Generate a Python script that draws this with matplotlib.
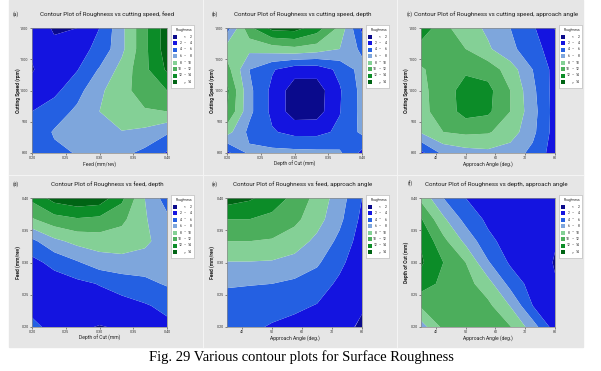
import numpy as np
import matplotlib
matplotlib.use("Agg")
import matplotlib.pyplot as plt
from matplotlib.patches import Rectangle

plt.rcParams['font.family'] = ['Roboto', 'DejaVu Sans']

# level bands and colours (Minitab style)
levels = [-100, 2, 4, 6, 8, 10, 12, 14, 100]
band_colors = ['#0a0a8c', '#1414e0', '#2460e2', '#7ea6dc',
               '#84d096', '#4cae5c', '#0c8c28', '#006414']
legend_left = ['', '2', '4', '6', '8', '10', '12', '']
legend_mid = ['<', '–', '–', '–', '–', '–', '–', '>']
legend_right = ['2', '4', '6', '8', '10', '12', '14', '14']

# axes values
feed = [0.20, 0.233, 0.267, 0.30, 0.333, 0.367, 0.40]
depth = [0.20, 0.233, 0.267, 0.30, 0.333, 0.367, 0.40]
speed = [1200, 1133, 1067, 1000, 933, 867, 800]
angle = [35, 42.5, 50, 57.5, 65, 72.5, 80]
feed_y = [0.40, 0.367, 0.333, 0.30, 0.267, 0.233, 0.20]
depth_y = [0.40, 0.367, 0.333, 0.30, 0.267, 0.233, 0.20]

# roughness grids, rows from top of plot to bottom
z_speed_feed = [
    [3.5, 1.7, 2.0, 4.0, 7.5, 11.5, 15.0],
    [2.2, 2.6, 3.3, 4.5, 7.5, 11.5, 15.0],
    [1.9, 2.8, 3.9, 6.2, 8.7, 11.5, 14.3],
    [2.5, 3.5, 5.3, 7.6, 9.3, 11.0, 12.0],
    [4.0, 5.0, 6.4, 8.0, 9.3, 9.8, 10.0],
    [4.6, 6.2, 7.0, 7.8, 7.9, 7.5, 6.3],
    [4.8, 5.6, 6.1, 6.6, 6.5, 5.5, 3.8],
]
z_speed_depth = [
    [5.0, 11.5, 14.6, 14.8, 13.0, 9.5, 3.5],
    [9.0, 8.5, 9.0, 9.5, 9.0, 8.0, 5.5],
    [10.8, 6.0, 4.2, 2.8, 2.8, 4.5, 6.8],
    [12.5, 6.5, 3.5, 1.0, 1.0, 3.8, 6.6],
    [12.0, 6.5, 3.5, 1.0, 1.1, 3.9, 6.6],
    [8.8, 5.5, 4.2, 3.4, 3.4, 4.4, 6.4],
    [3.5, 6.4, 6.6, 6.6, 6.5, 6.3, 3.5],
]
z_speed_angle = [
    [13.5, 10.5, 9.0, 7.6, 6.0, 4.3, 1.9],
    [11.0, 10.8, 10.0, 8.3, 6.5, 4.8, 3.0],
    [9.8, 10.8, 11.6, 11.2, 9.0, 6.0, 3.3],
    [9.6, 10.8, 13.0, 12.6, 10.0, 6.5, 3.2],
    [9.5, 10.8, 12.8, 12.4, 10.0, 6.8, 3.2],
    [8.2, 10.0, 10.4, 10.2, 9.0, 6.5, 3.2],
    [3.5, 6.5, 7.2, 7.5, 7.0, 5.5, 3.0],
]
z_feed_depth = [
    [12.5, 14.8, 15.5, 15.2, 12.5, 8.0, 5.0],
    [9.8, 11.2, 11.8, 11.5, 10.5, 8.2, 6.5],
    [5.5, 7.5, 8.6, 9.0, 8.9, 8.5, 6.8],
    [3.4, 4.6, 5.8, 7.0, 7.4, 7.0, 6.8],
    [2.6, 3.0, 3.5, 4.1, 4.8, 5.5, 6.2],
    [3.0, 2.8, 2.8, 3.0, 3.3, 3.8, 4.5],
    [4.8, 3.0, 2.3, 1.9, 2.2, 2.6, 3.5],
]
z_feed_angle = [
    [15.0, 14.3, 13.0, 11.5, 9.3, 7.0, 4.0],
    [12.0, 12.0, 11.5, 10.5, 8.8, 6.5, 3.5],
    [10.0, 10.0, 9.8, 9.0, 7.5, 5.5, 3.0],
    [7.9, 7.9, 7.8, 7.3, 6.3, 4.5, 2.6],
    [6.2, 6.1, 6.0, 5.6, 5.0, 3.6, 2.4],
    [5.2, 5.0, 4.8, 4.4, 3.9, 3.0, 2.2],
    [4.8, 4.4, 3.8, 3.4, 3.0, 2.6, 1.7],
]
z_depth_angle = [
    [9.5, 6.0, 4.0, 3.2, 2.8, 2.6, 2.5],
    [12.2, 8.4, 5.3, 3.6, 2.9, 2.6, 2.4],
    [13.8, 10.6, 7.5, 4.5, 3.2, 2.6, 2.1],
    [14.3, 12.0, 10.0, 6.2, 3.7, 2.8, 1.9],
    [13.0, 11.5, 10.8, 8.8, 5.3, 3.2, 2.1],
    [10.3, 11.0, 11.3, 10.5, 7.9, 4.0, 2.5],
    [7.0, 10.5, 12.0, 12.0, 10.1, 7.0, 3.0],
]

W, H = 601, 371
fig = plt.figure(figsize=(W / 100, H / 100), dpi=100)


def fx(x):
    return x / W


def fy(y):
    return 1 - y / H


# grey panel background and light separators
fig.patches.append(Rectangle((fx(9), fy(347)), fx(583) - fx(9), fy(0) - fy(347),
                             transform=fig.transFigure, color='#e6e6e6', zorder=-2))
for xs in [203, 397]:
    fig.add_artist(plt.Line2D([fx(xs), fx(xs)], [fy(0), fy(347)],
                              transform=fig.transFigure, color='#f4f4f4', lw=0.8, zorder=-1))
fig.add_artist(plt.Line2D([fx(9), fx(583)], [fy(175), fy(175)],
                          transform=fig.transFigure, color='#f4f4f4', lw=0.8, zorder=-1))

panels = [
    # letter, x, y, z, title, xlabel, ylabel, xticks, yticks, plot box, legend x
    ('(a)', feed, speed, z_speed_feed, 'Contour Plot of Roughness vs cutting speed, feed',
     'Feed (mm/rev)', 'Cutting Speed (rpm)',
     [0.20, 0.25, 0.30, 0.35, 0.40], [800, 900, 1000, 1100, 1200], (32, 28, 167, 153), 171),
    ('(b)', depth, speed, z_speed_depth, 'Contour Plot of Roughness vs cutting speed, depth',
     'Depth of Cut (mm)', 'Cutting Speed (rpm)',
     [0.20, 0.25, 0.30, 0.35, 0.40], [800, 900, 1000, 1100, 1200], (227, 28, 362, 153), 366),
    ('(c)', angle, speed, z_speed_angle, 'Contour Plot of Roughness vs cutting speed, approach angle',
     'Approach Angle (deg.)', 'Cutting Speed (rpm)',
     [40, 50, 60, 70, 80], [800, 900, 1000, 1100, 1200], (421, 28, 555, 153), 559),
    ('(d)', depth, feed_y, z_feed_depth, 'Contour Plot of Roughness vs feed, depth',
     'Depth of Cut (mm)', 'Feed (mm/rev)',
     [0.20, 0.25, 0.30, 0.35, 0.40], [0.20, 0.25, 0.30, 0.35, 0.40], (32, 198, 167, 327), 171),
    ('(e)', angle, feed_y, z_feed_angle, 'Contour Plot of Roughness vs feed, approach angle',
     'Approach Angle (deg.)', 'Feed (mm/rev)',
     [40, 50, 60, 70, 80], [0.20, 0.25, 0.30, 0.35, 0.40], (227, 198, 362, 327), 366),
    ('(f)', angle, depth_y, z_depth_angle, 'Contour Plot of Roughness vs depth, approach angle',
     'Approach Angle (deg.)', 'Depth of Cut (mm)',
     [40, 50, 60, 70, 80], [0.20, 0.25, 0.30, 0.35, 0.40], (421, 198, 555, 327), 559),
]

label_x = {32: (16, 18), 227: (215, 212), 421: (410, 406)}

for letter, xv, yv, zv, title, xlab, ylab, xt, yt, box, lx in panels:
    x0, y0, x1, y1 = box
    ax = fig.add_axes([fx(x0), fy(y1), fx(x1) - fx(x0), fy(y0) - fy(y1)])
    ax.contourf(xv, yv, np.array(zv), levels=levels, colors=band_colors, antialiased=True)
    ax.set_xlim(min(xv), max(xv))
    ax.set_ylim(min(yv), max(yv))
    ax.set_xticks(xt)
    ax.set_yticks(yt)
    if isinstance(xt[0], float):
        ax.set_xticklabels([f'{v:.2f}' for v in xt])
    if isinstance(yt[0], float):
        ax.set_yticklabels([f'{v:.2f}' for v in yt])
    ax.tick_params(labelsize=2.6, length=1.5, width=0.4, pad=1, colors='#333333')
    for s in ax.spines.values():
        s.set_color('#8a8a8a')
        s.set_linewidth(0.5)

    px, ylx = label_x[x0]
    top = y0 - 14
    fig.text(fx(px), fy(top), letter, fontsize=3.6, ha='center', va='center', color='#222222')
    fig.text(fx((x0 + x1) / 2 + 8), fy(top), title, fontsize=4.4, ha='center', va='center',
             color='#1a1a1a')
    fig.text(fx((x0 + x1) / 2), fy(y1 + 11), xlab, fontsize=3.6, ha='center', va='center',
             color='#222222')
    fig.text(fx(ylx), fy((y0 + y1) / 2), ylab, fontsize=3.6, ha='center', va='center',
             rotation=90, color='#222222', fontweight='bold')

    # legend box
    ly0 = y0 - 3
    lw, lh = 23, 63
    fig.patches.append(Rectangle((fx(lx), fy(ly0 + lh)), lw / W, lh / H,
                                 transform=fig.transFigure, facecolor='white',
                                 edgecolor='#b0b0b0', lw=0.4, zorder=2))
    fig.text(fx(lx + lw / 2 + 2), fy(ly0 + 5), 'Roughness', fontsize=2.4, ha='center',
             va='center', color='#222222', zorder=3)
    for i in range(8):
        ry = ly0 + 11.5 + i * 6.5
        fig.patches.append(Rectangle((fx(lx + 2), fy(ry + 2)), 3.5 / W, 4 / H,
                                     transform=fig.transFigure, facecolor=band_colors[i],
                                     edgecolor='none', zorder=3))
        fig.text(fx(lx + 11), fy(ry), legend_left[i], fontsize=2.4, ha='right', va='center',
                 color='#222222', zorder=3)
        fig.text(fx(lx + 14), fy(ry), legend_mid[i], fontsize=2.4, ha='center', va='center',
                 color='#222222', zorder=3)
        fig.text(fx(lx + 20.5), fy(ry), legend_right[i], fontsize=2.4, ha='right', va='center',
                 color='#222222', zorder=3)

fig.text(fx(301), fy(357), 'Fig. 29 Various contour plots for Surface Roughness',
         fontsize=10.5, ha='center', va='center', family='Liberation Serif')

fig.savefig('out.png', dpi=100, facecolor='white')
